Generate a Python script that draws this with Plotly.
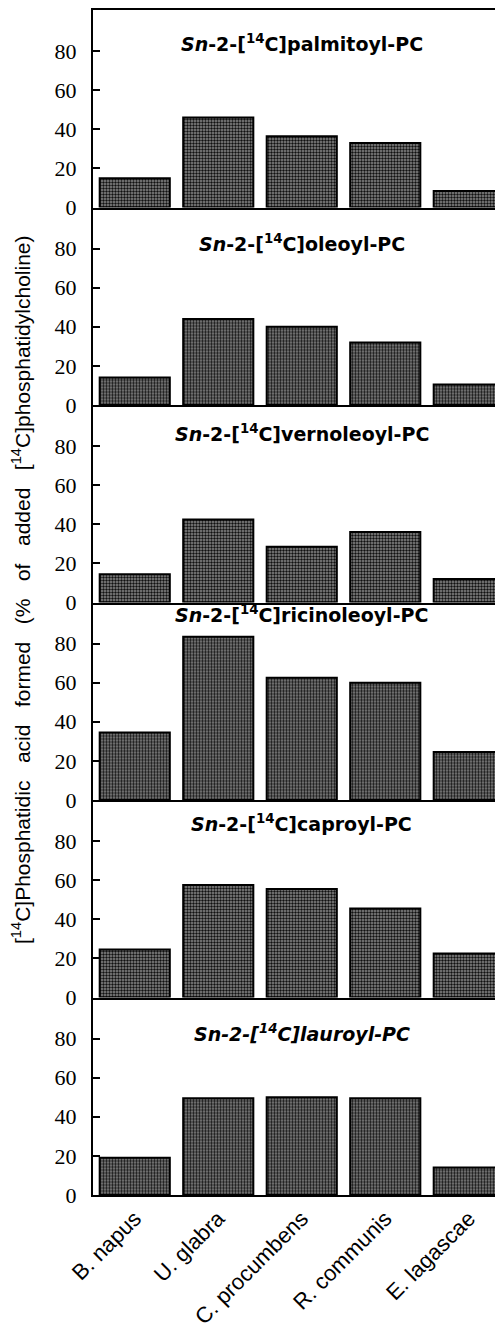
import plotly.graph_objects as go
from plotly.subplots import make_subplots

species = ["B. napus", "U. glabra", "C. procumbens", "R. communis", "E. lagascae"]
palmitoyl = [15, 46, 36.5, 33, 8.5]
oleoyl = [14, 44, 40, 32, 10.5]
vernoleoyl = [14.5, 42.5, 28.5, 36, 12]
ricinoleoyl = [34.5, 83.5, 62.5, 60, 24.5]
caproyl = [24.5, 57.5, 55.5, 45.5, 22.5]
lauroyl = [19, 49.5, 50, 49.5, 14]
panel_titles = [
    "<i>Sn</i>-2-[<sup>14</sup>C]palmitoyl-PC",
    "<i>Sn</i>-2-[<sup>14</sup>C]oleoyl-PC",
    "<i>Sn</i>-2-[<sup>14</sup>C]vernoleoyl-PC",
    "<i>Sn</i>-2-[<sup>14</sup>C]ricinoleoyl-PC",
    "<i>Sn</i>-2-[<sup>14</sup>C]caproyl-PC",
    "<i>Sn-2-[<sup>14</sup>C]lauroyl-PC</i>",
]
y_ticks = [0, 20, 40, 60, 80]

series = [palmitoyl, oleoyl, vernoleoyl, ricinoleoyl, caproyl, lauroyl]
title_y = [84, 83, 86.5, 95, 89, 83]  # label placement (style)

fig = make_subplots(rows=6, cols=1, shared_xaxes=True, vertical_spacing=0)

for i, vals in enumerate(series):
    r = i + 1
    fig.add_trace(go.Bar(
        x=species, y=vals, width=0.84,
        marker=dict(
            color="#8a8a8a",
            line=dict(color="black", width=2),
            pattern=dict(shape=".", fgcolor="#111111", bgcolor="#8a8a8a",
                         size=3, solidity=0.5, fillmode="replace"),
        ),
        showlegend=False,
    ), row=r, col=1)
    fig.add_annotation(
        x=2, y=title_y[i], xref=f"x{'' if r == 1 else r}", yref=f"y{'' if r == 1 else r}",
        text=panel_titles[i], showarrow=False,
        font=dict(family="DejaVu Sans", size=19, color="black", weight="bold"),
        xanchor="center", yanchor="middle",
    )
    fig.update_yaxes(
        range=[0, 101], tickvals=y_ticks, ticktext=[str(v) for v in y_ticks],
        ticks="inside", ticklen=7, tickwidth=2, tickcolor="black",
        showline=True, linecolor="black", linewidth=2,
        showgrid=False, zeroline=False, ticklabelstandoff=10, automargin=False,
        tickfont=dict(family="Liberation Serif", size=22, color="black"),
        row=r, col=1,
    )
    fig.update_xaxes(
        range=[-0.5, 4.41], showline=True, linecolor="black", linewidth=2,
        showgrid=False, zeroline=False, ticks="", automargin=False,
        mirror=(r == 1),
        row=r, col=1,
    )

fig.update_xaxes(
    tickangle=-45, tickfont=dict(family="Liberation Sans", size=22, color="black"),
    showticklabels=True, row=6, col=1,
)

fig.add_annotation(
    xref="paper", yref="paper", x=0, y=0.5105, xshift=-72,
    text="[<sup>14</sup>C]Phosphatidic   acid   formed   (%   of   added   [<sup>14</sup>C]phosphatidylcholine)",
    textangle=-90, showarrow=False, xanchor="center", yanchor="middle",
    font=dict(family="Liberation Sans", size=21, color="black"),
)

fig.update_layout(
    width=495, height=1322,
    margin=dict(l=85, r=0, t=2, b=135, autoexpand=False),
    plot_bgcolor="white", paper_bgcolor="white",
    bargap=0.16,
)

fig.write_html("out.html")
